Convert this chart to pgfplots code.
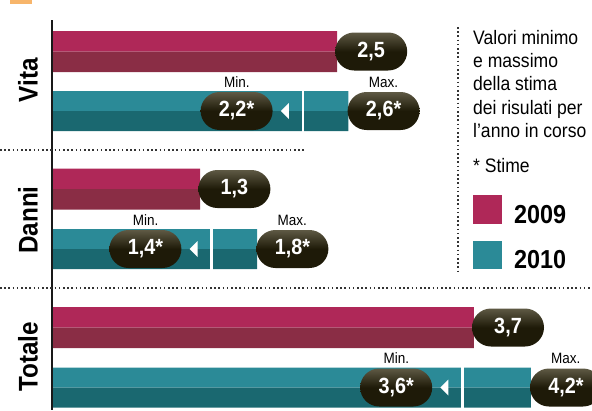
\documentclass[border=0pt]{standalone}
\usepackage{pgfplots}
\pgfplotsset{compat=1.18}
\usepackage{fontspec}
\setmainfont{Liberation Sans}[FakeStretch=0.9]
\definecolor{magL}{HTML}{AF2858}
\definecolor{magD}{HTML}{8A2D45}
\definecolor{teaL}{HTML}{2B8A97}
\definecolor{teaD}{HTML}{1A6870}
\definecolor{pill}{HTML}{1E1A08}
\definecolor{pillHi}{HTML}{5E5944}
\definecolor{dotc}{HTML}{333333}
\definecolor{orng}{HTML}{F7B56B}
\pgfdeclareplotmark{ltri}{%
  \pgfpathmoveto{\pgfpoint{-22pt}{0pt}}%
  \pgfpathlineto{\pgfpoint{-14pt}{8pt}}%
  \pgfpathlineto{\pgfpoint{-14pt}{-8pt}}%
  \pgfpathclose\pgfusepath{fill}}
\tikzset{pill/.style={rounded corners=19pt, minimum width=72pt, minimum height=38pt, inner sep=0pt,
  top color=pillHi, bottom color=pill, middle color=pill, text=white,
  font=\bfseries\fontsize{22}{22}\selectfont},
  dots/.style={dotc, line width=1.6pt, dash pattern=on 1.6pt off 2.6pt}}
\begin{document}
\begin{tikzpicture}
\begin{axis}[x=114pt, y=1pt, y dir=reverse,
  xmin=-0.45614, xmax=4.73684, ymin=0, ymax=410,
  hide axis, clip=false]
% 2009 bars (two tones)
\addplot[xbar, bar width=20.5, bar shift=-10.25, fill=magL, draw=none] coordinates {(2.5,51.5) (1.3,189) (3.7,327.5)};
\addplot[xbar, bar width=20.5, bar shift=10.25, fill=magD, draw=none] coordinates {(2.5,51.5) (1.3,189) (3.7,327.5)};
% 2010 bars up to max estimate
\addplot[xbar, bar width=20, bar shift=-10, fill=teaL, draw=none] coordinates {(2.6,111) (1.8,249) (4.2,387.5)};
\addplot[xbar, bar width=20, bar shift=10, fill=teaD, draw=none] coordinates {(2.6,111) (1.8,249) (4.2,387.5)};
% white dividers at min estimate
\addplot[white, line width=2.5pt] coordinates {(2.2,90.5) (2.2,131.5)};
\addplot[white, line width=2.5pt] coordinates {(1.4,228.5) (1.4,269.5)};
\addplot[white, line width=2.5pt] coordinates {(3.6,367) (3.6,408)};
% triangles
\addplot[only marks, mark=ltri, mark options={fill=white, draw=none}] coordinates {(2.2,111) (1.4,249) (3.6,387.5)};
% axis line
\draw[black!90, line width=2pt] (axis cs:0,20) -- (axis cs:0,410);
% pills 2009
\addplot[draw=none, mark=none, nodes near coords, point meta=explicit symbolic,
  nodes near coords style={pill, anchor=west, xshift=-2pt}]
  coordinates {(2.5,51.5) [{2,5}] (1.3,189) [{1,3}] (3.7,327.5) [{3,7}]};
% pills max
\addplot[draw=none, mark=none, nodes near coords, point meta=explicit symbolic,
  nodes near coords style={pill, anchor=west, xshift=-1pt}]
  coordinates {(2.6,111) [{2,6*}] (1.8,249) [{1,8*}] (4.2,387.5) [{4,2*}]};
% pills min
\addplot[draw=none, mark=none, nodes near coords, point meta=explicit symbolic,
  nodes near coords style={pill, anchor=east, xshift=-30pt}]
  coordinates {(2.2,111) [{2,2*}] (1.4,249) [{1,4*}] (3.6,387.5) [{3,6*}]};
% Min./Max. labels
\addplot[draw=none, mark=none, nodes near coords={Min.},
  nodes near coords style={anchor=base, inner sep=0pt, xshift=-66pt, yshift=24pt, text=black, font=\fontsize{15}{15}\selectfont}]
  coordinates {(2.2,111) (1.4,249) (3.6,387.5)};
\addplot[draw=none, mark=none, nodes near coords={Max.},
  nodes near coords style={anchor=base, inner sep=0pt, xshift=35pt, yshift=24pt, text=black, font=\fontsize{15}{15}\selectfont}]
  coordinates {(2.6,111) (1.8,249) (4.2,387.5)};
% separators
\draw[dots] (axis cs:-0.456,150) -- (axis cs:2.219,150);
\draw[dots] (axis cs:-0.456,288) -- (axis cs:4.737,288);
\draw[dots] (axis cs:3.5614,27) -- (axis cs:3.5614,272);
% row labels
\node[rotate=90, font=\bfseries\fontsize{27}{27}\selectfont] at (axis cs:-0.2105,80) {Vita};
\node[rotate=90, font=\bfseries\fontsize{27}{27}\selectfont] at (axis cs:-0.2105,220) {Danni};
\node[rotate=90, font=\bfseries\fontsize{27}{27}\selectfont] at (axis cs:-0.2105,357) {Totale};
% legend
\begin{scope}[every node/.style={anchor=base west, inner sep=0pt, font=\fontsize{19.5}{19.5}\selectfont}]
\node at (axis cs:3.693,44) {Valori minimo};
\node at (axis cs:3.693,67) {e massimo};
\node at (axis cs:3.693,90) {della stima};
\node at (axis cs:3.693,114) {dei risulati per};
\node at (axis cs:3.693,137) {l’anno in corso};
\node at (axis cs:3.693,172) {* Stime};
\end{scope}
\fill[magL] (axis cs:3.693,195) rectangle (axis cs:3.947,224);
\fill[teaL] (axis cs:3.693,241) rectangle (axis cs:3.947,269);
\node[anchor=base west, inner sep=0pt, font=\bfseries\fontsize{26}{26}\selectfont] at (axis cs:4.0526,223) {2009};
\node[anchor=base west, inner sep=0pt, font=\bfseries\fontsize{26}{26}\selectfont] at (axis cs:4.0526,268) {2010};
% top decoration
\fill[orng] (axis cs:-0.3684,0) rectangle (axis cs:-0.1754,3.5);
\end{axis}
\pgfresetboundingbox
\path (0,0) rectangle (592pt,410pt);
\end{tikzpicture}
\end{document}
